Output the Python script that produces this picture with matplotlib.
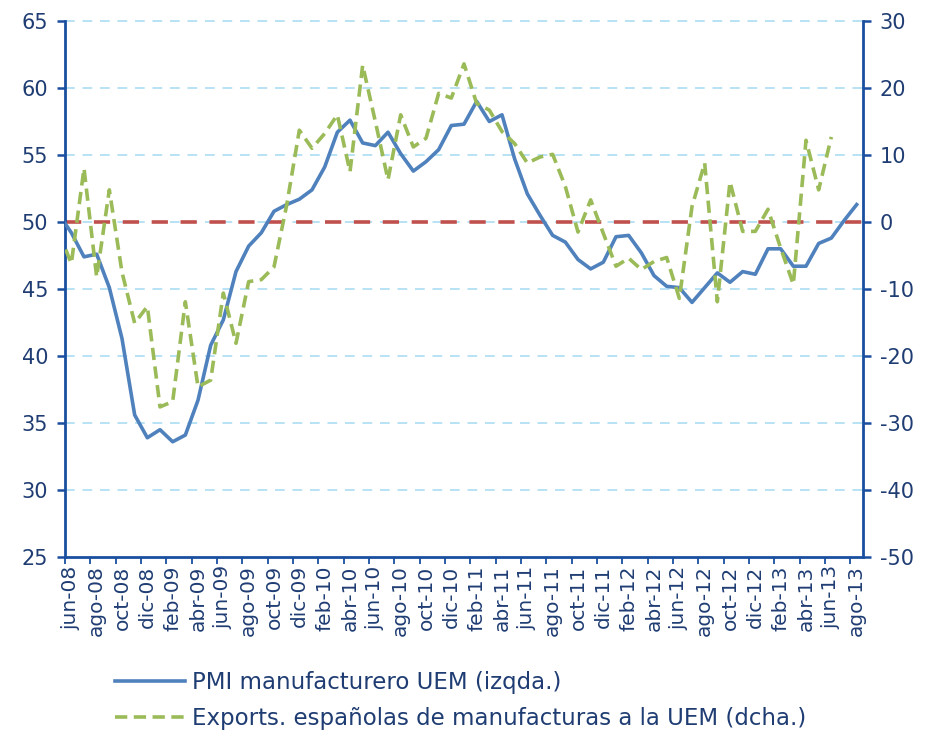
import numpy as np
import matplotlib
matplotlib.use("Agg")
import matplotlib.pyplot as plt

plt.rcParams["axes.unicode_minus"] = False

# months from may-08 (only partly visible at the left edge) to ago-13
mes = ["ene", "feb", "mar", "abr", "may", "jun", "jul", "ago", "sep", "oct", "nov", "dic"]
months = [f"{mes[m]}-{y:02d}" for y in range(8, 14) for m in range(12)][4:4 + 64]

pmi = [50.6, 49.2, 47.4, 47.6, 45.1, 41.3, 35.6, 33.9,
       34.5, 33.6, 34.1, 36.7, 40.8, 42.7, 46.3, 48.2, 49.2, 50.8, 51.3, 51.7,
       52.4, 54.1, 56.7, 57.6, 55.9, 55.7, 56.7, 55.1, 53.8, 54.5, 55.4, 57.2,
       57.3, 59.0, 57.5, 58.0, 54.7, 52.1, 50.5, 49.0, 48.5, 47.2, 46.5, 47.0,
       48.9, 49.0, 47.7, 46.0, 45.2, 45.1, 44.0, 45.1, 46.2, 45.5, 46.3, 46.1,
       48.0, 48.0, 46.7, 46.7, 48.4, 48.8, 50.1, 51.3]

exports = [-1.5, -6.2, 8.0, -8.2, 4.8, -7.5, -15.1, -12.6,
           -27.6, -26.8, -11.9, -24.6, -23.6, -10.6, -18.1, -8.9, -8.6, -6.7, 2.5, 13.7,
           11.0, 13.2, 16.0, 7.5, 23.4, 15.0, 6.3, 16.0, 11.2, 12.5, 19.2, 18.5,
           23.6, 17.7, 16.7, 13.5, 11.7, 8.8, 9.7, 10.1, 5.3, -1.5, 3.3, -1.7,
           -6.6, -5.4, -7.1, -5.9, -5.3, -11.4, 2.3, 8.8, -11.9, 6.0, -1.4, -1.4,
           1.9, -3.9, -9.3, 12.2, 4.8, 12.7, np.nan, np.nan]

label_pmi = "PMI manufacturero UEM (izqda.)"
label_exp = "Exports. españolas de manufacturas a la UEM (dcha.)"

navy = "#1F3D73"
spine = "#1A4FA0"

x = np.arange(len(months)) - 1  # jun-08 sits at 0

fig = plt.figure(figsize=(9.28, 7.31), dpi=100)
ax = fig.add_axes([65 / 928, 1 - 557 / 731, (863 - 65) / 928, (557 - 21) / 731])
ax2 = ax.twinx()

# grid and reference line
for v in np.arange(30, 66, 5):
    ax.axhline(v, color="#B8E2F5", lw=1.4, ls=(0, (5, 4)), zorder=0, clip_on=False)
ax.axhline(50, color="#C0504D", lw=2.6, ls=(0, (4.5, 3.5)), zorder=1)

ax.plot(x, pmi, color="#4F81BD", lw=2.6, zorder=3, label=label_pmi)
ax2.plot(x, exports, color="#9BBB59", lw=2.6, ls=(0, (3.4, 1.8)), label=label_exp)

ax.set_xlim(-0.5, 62.5)
ax.set_ylim(25, 65)
ax2.set_ylim(-50, 30)
ax.set_yticks(np.arange(25, 66, 5))
ax2.set_yticks(np.arange(-50, 31, 10))

# ticks between categories, labels on every second month
ax.set_xticks(np.arange(-0.5, 63, 2))
ax.set_xticklabels([])
ax.set_xticks(x[1::2], minor=True)
ax.set_xticklabels(months[1::2], minor=True, rotation=90)
ax.tick_params(axis="x", which="minor", length=0, pad=6)
ax.tick_params(axis="x", which="major", length=5, width=1.3, color=spine, direction="out")

for a in (ax, ax2):
    for s in a.spines.values():
        s.set_color(spine)
        s.set_linewidth(2)
    a.spines["top"].set_visible(False)
ax.spines["right"].set_visible(False)
ax2.spines["left"].set_visible(False)
ax2.spines["bottom"].set_visible(False)

ax.tick_params(axis="y", length=6, width=1.8, color=spine, labelsize=15, labelcolor=navy, pad=6)
ax2.tick_params(axis="y", length=6, width=1.8, color=spine, labelsize=15, labelcolor=navy, pad=6)
ax.tick_params(axis="x", which="minor", labelsize=14.5, labelcolor=navy)

h1, l1 = ax.get_legend_handles_labels()
h2, l2 = ax2.get_legend_handles_labels()
fig.legend(h1 + h2, l1 + l2, loc="upper left", bbox_to_anchor=(115 / 928, 1 - 671 / 731),
           frameon=False, fontsize=16.5, handlelength=3.05, handletextpad=0.3,
           labelspacing=0.55, labelcolor=navy, borderpad=0, borderaxespad=0)

fig.savefig("out.png", dpi=100)
